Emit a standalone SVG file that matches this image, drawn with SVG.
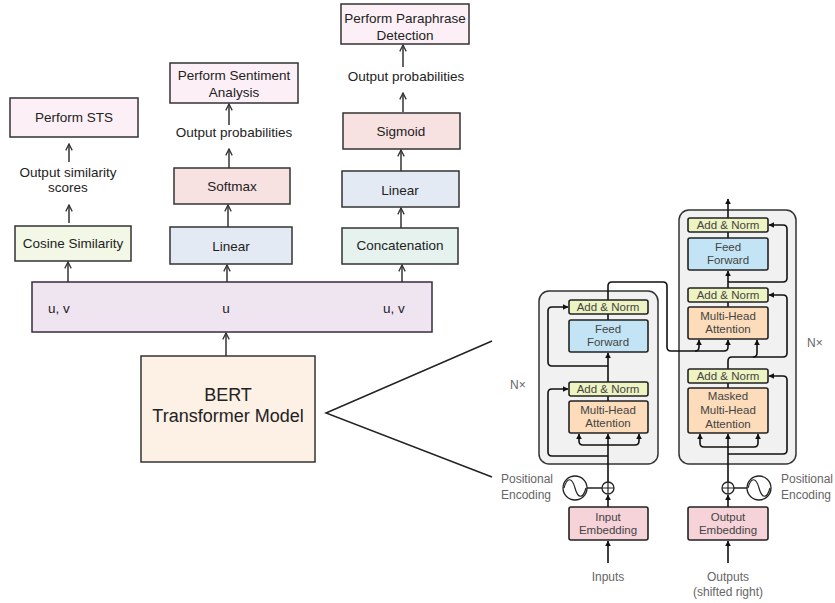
<svg xmlns="http://www.w3.org/2000/svg" width="835" height="603" viewBox="0 0 835 603">
<defs>
<marker id="open" viewBox="0 0 10 10" refX="9" refY="5" markerWidth="8" markerHeight="8" markerUnits="userSpaceOnUse" orient="auto">
<path d="M1,1 L9,5 L1,9" fill="none" stroke="#333" stroke-width="1.6"/>
</marker>
<marker id="tri" viewBox="0 0 10 10" refX="9" refY="5" markerWidth="6" markerHeight="6" markerUnits="userSpaceOnUse" orient="auto">
<path d="M0,0 L10,5 L0,10 z" fill="#111"/>
</marker>
</defs>
<style>
.lt{font-family:"Liberation Sans",Arial,sans-serif;font-size:13.5px;fill:#222;text-anchor:middle}
.bx{stroke:#333;stroke-width:1.5}
.conn{fill:none;stroke:#333;stroke-width:1.5}
.tc{fill:none;stroke:#111;stroke-width:1.6}
.tt{font-family:"Liberation Sans",Arial,sans-serif;font-size:11.5px;fill:#444;text-anchor:middle}
.tg{font-family:"Liberation Sans",Arial,sans-serif;font-size:12px;fill:#666}
.tb{stroke:#222;stroke-width:1.6}
.outer{fill:#f1f1f1;stroke:#333;stroke-width:1.5}
.an{fill:#eef3c2}
.ff{fill:#c3e4f4}
.mha{fill:#fcdcba}
.emb{fill:#f6d3d8}
</style>
<rect width="835" height="603" fill="#ffffff"/>

<!-- Stack backgrounds -->
<g id="encoder-stack"><rect class="outer" x="539" y="291" width="119" height="173" rx="10"/></g>
<g id="decoder-stack"><rect class="outer" x="679" y="210" width="117" height="254" rx="10"/></g>

<!-- Connectors -->
<g id="connectors">
<line class="conn" x1="69" y1="162" x2="69" y2="144" marker-end="url(#open)"/>
<line class="conn" x1="69" y1="223" x2="69" y2="205" marker-end="url(#open)"/>
<line class="conn" x1="68" y1="282" x2="68" y2="262" marker-end="url(#open)"/>
<line class="conn" x1="229" y1="125" x2="229" y2="104" marker-end="url(#open)"/>
<line class="conn" x1="229" y1="168" x2="229" y2="149" marker-end="url(#open)"/>
<line class="conn" x1="228" y1="227" x2="228" y2="205" marker-end="url(#open)"/>
<line class="conn" x1="227" y1="282" x2="227" y2="265" marker-end="url(#open)"/>
<line class="conn" x1="403" y1="67" x2="403" y2="45" marker-end="url(#open)"/>
<line class="conn" x1="403" y1="112" x2="403" y2="93" marker-end="url(#open)"/>
<line class="conn" x1="401" y1="171" x2="401" y2="150" marker-end="url(#open)"/>
<line class="conn" x1="401" y1="228" x2="401" y2="208" marker-end="url(#open)"/>
<line class="conn" x1="402" y1="282" x2="402" y2="265" marker-end="url(#open)"/>
<line class="conn" x1="226" y1="356" x2="226" y2="333" marker-end="url(#open)"/>
<polyline fill="none" stroke="#222" stroke-width="1.5" points="492,341 326,413 492,477"/>

<line class="tc" x1="608" y1="563" x2="608" y2="541" marker-end="url(#tri)"/>
<line class="tc" x1="608" y1="507" x2="608" y2="495" marker-end="url(#tri)"/>
<line class="tc" x1="608" y1="482" x2="608" y2="434" marker-end="url(#tri)"/>
<path class="tc" d="M608,445 H583 Q579,445 579,441 V434" marker-end="url(#tri)"/>
<path class="tc" d="M608,445 H635 Q639,445 639,441 V434" marker-end="url(#tri)"/>
<path class="tc" d="M608,456 H552 Q548,456 548,452 V393 Q548,389 552,389 H568" marker-end="url(#tri)"/>
<line class="tc" x1="608" y1="401" x2="608" y2="396"/>
<line class="tc" x1="608" y1="382" x2="608" y2="353" marker-end="url(#tri)"/>
<path class="tc" d="M608,366 H552 Q548,366 548,362 V311 Q548,307 552,307 H568" marker-end="url(#tri)"/>
<line class="tc" x1="608" y1="320" x2="608" y2="314"/>
<path class="tc" d="M608,300 V286 Q608,282 612,282 H663 Q667,282 667,286 V347 Q667,351 671,351 H695 Q699,351 699,347 V340" marker-end="url(#tri)"/>
<path class="tc" d="M695,351 H724 Q728,351 728,347 V340" marker-end="url(#tri)"/>

<line class="tc" x1="728" y1="563" x2="728" y2="541" marker-end="url(#tri)"/>
<line class="tc" x1="728" y1="507" x2="728" y2="495" marker-end="url(#tri)"/>
<line class="tc" x1="728" y1="482" x2="728" y2="434" marker-end="url(#tri)"/>
<path class="tc" d="M728,447 H704 Q700,447 700,443 V434" marker-end="url(#tri)"/>
<path class="tc" d="M728,447 H754 Q758,447 758,443 V434" marker-end="url(#tri)"/>
<path class="tc" d="M728,454 H783 Q787,454 787,450 V380 Q787,376 783,376 H769" marker-end="url(#tri)"/>
<line class="tc" x1="728" y1="388" x2="728" y2="383"/>
<path class="tc" d="M728,369 V361 Q728,357 732,357 H753 Q757,357 757,353 V340" marker-end="url(#tri)"/>
<path class="tc" d="M753,357 H783 Q787,357 787,353 V299 Q787,295 783,295 H769" marker-end="url(#tri)"/>
<line class="tc" x1="728" y1="307" x2="728" y2="302"/>
<line class="tc" x1="728" y1="288" x2="728" y2="271" marker-end="url(#tri)"/>
<path class="tc" d="M728,282 H783 Q787,282 787,278 V229 Q787,225 783,225 H769" marker-end="url(#tri)"/>
<line class="tc" x1="728" y1="238" x2="728" y2="232"/>
<line class="tc" x1="728" y1="218" x2="728" y2="199" marker-end="url(#tri)"/>
</g>

<!-- Left side nodes -->
<g id="perform-sts"><rect class="bx" x="10" y="98" width="128" height="39" fill="#fcf0f6"/><text class="lt" x="74" y="122">Perform STS</text></g>
<g id="sts-label"><text class="lt" x="68" y="177">Output similarity</text><text class="lt" x="68" y="192">scores</text></g>
<g id="cosine"><rect class="bx" x="15" y="226" width="116" height="35" fill="#f2f7e6"/><text class="lt" x="73" y="248">Cosine Similarity</text></g>

<g id="perform-sentiment"><rect class="bx" x="170" y="63" width="128" height="40" fill="#fcf0f6"/><text class="lt" x="234" y="80">Perform Sentiment</text><text class="lt" x="234" y="97">Analysis</text></g>
<g id="sent-label"><text class="lt" x="234" y="137">Output probabilities</text></g>
<g id="softmax"><rect class="bx" x="174" y="168" width="116" height="36" fill="#f8e1e1"/><text class="lt" x="232" y="191">Softmax</text></g>
<g id="linear-mid"><rect class="bx" x="170" y="227" width="122" height="37" fill="#e4eaf3"/><text class="lt" x="231" y="251">Linear</text></g>

<g id="perform-paraphrase"><rect class="bx" x="341" y="4" width="128" height="40" fill="#fcf0f6"/><text class="lt" x="405" y="23">Perform Paraphrase</text><text class="lt" x="405" y="40">Detection</text></g>
<g id="para-label"><text class="lt" x="406" y="81">Output probabilities</text></g>
<g id="sigmoid"><rect class="bx" x="343" y="113" width="117" height="36" fill="#f8e1e1"/><text class="lt" x="401" y="136">Sigmoid</text></g>
<g id="linear-right"><rect class="bx" x="342" y="171" width="117" height="36" fill="#e4eaf3"/><text class="lt" x="400" y="195">Linear</text></g>
<g id="concat"><rect class="bx" x="342" y="228" width="116" height="36" fill="#e5f2ee"/><text class="lt" x="400" y="250">Concatenation</text></g>

<g id="embeddings-bar"><rect x="32" y="282" width="400" height="50" fill="#efe5f1" stroke="#3a2a3e" stroke-width="1.5"/>
<text class="lt" x="48" y="313" style="text-anchor:start">u, v</text>
<text class="lt" x="226" y="313">u</text>
<text class="lt" x="383" y="313" style="text-anchor:start">u, v</text></g>

<g id="bert"><rect class="bx" x="141" y="356" width="174" height="106" fill="#fdf1e6"/>
<text class="lt" x="228" y="401" style="font-size:18px">BERT</text>
<text class="lt" x="228" y="422" style="font-size:18px">Transformer Model</text></g>

<!-- Encoder -->
<g id="enc-addnorm2"><rect class="tb an" x="569" y="300" width="79" height="14" rx="2"/><text class="tt" x="608" y="311">Add &amp; Norm</text></g>
<g id="enc-ff"><rect class="tb ff" x="569" y="320" width="79" height="32" rx="2"/><text class="tt" x="608" y="333">Feed</text><text class="tt" x="608" y="346">Forward</text></g>
<g id="enc-addnorm1"><rect class="tb an" x="569" y="382" width="79" height="14" rx="2"/><text class="tt" x="608" y="393">Add &amp; Norm</text></g>
<g id="enc-mha"><rect class="tb mha" x="569" y="401" width="79" height="32" rx="2"/><text class="tt" x="608" y="414">Multi-Head</text><text class="tt" x="608" y="427">Attention</text></g>
<g id="enc-nx"><text class="tg" x="510" y="389">N×</text></g>
<g id="enc-pos"><circle cx="575" cy="488" r="12" fill="#fff" stroke="#222" stroke-width="1.3"/>
<path d="M564,488 C567,477 572,477 575,488 C578,499 583,499 586,488" fill="none" stroke="#222" stroke-width="1.2"/>
<line x1="587" y1="488" x2="602" y2="488" stroke="#222" stroke-width="1.5"/>
<circle cx="608" cy="488" r="6" fill="#fff" stroke="#222" stroke-width="1.3"/>
<path d="M602,488 H614 M608,482 V494" stroke="#222" stroke-width="1.2"/>
<text class="tg" x="501" y="483">Positional</text><text class="tg" x="501" y="499">Encoding</text></g>
<g id="input-embedding"><rect class="tb emb" x="569" y="507" width="79" height="33" rx="2"/><text class="tt" x="608" y="521">Input</text><text class="tt" x="608" y="534">Embedding</text></g>
<g id="inputs"><text class="tg" x="608" y="581" style="text-anchor:middle">Inputs</text></g>

<!-- Decoder -->
<g id="dec-addnorm3"><rect class="tb an" x="688" y="218" width="80" height="14" rx="2"/><text class="tt" x="728" y="229">Add &amp; Norm</text></g>
<g id="dec-ff"><rect class="tb ff" x="688" y="238" width="80" height="32" rx="2"/><text class="tt" x="728" y="251">Feed</text><text class="tt" x="728" y="264">Forward</text></g>
<g id="dec-addnorm2"><rect class="tb an" x="688" y="288" width="80" height="14" rx="2"/><text class="tt" x="728" y="299">Add &amp; Norm</text></g>
<g id="dec-mha"><rect class="tb mha" x="688" y="307" width="80" height="32" rx="2"/><text class="tt" x="728" y="320">Multi-Head</text><text class="tt" x="728" y="333">Attention</text></g>
<g id="dec-addnorm1"><rect class="tb an" x="688" y="369" width="80" height="14" rx="2"/><text class="tt" x="728" y="380">Add &amp; Norm</text></g>
<g id="dec-masked"><rect class="tb mha" x="688" y="388" width="80" height="45" rx="2"/><text class="tt" x="728" y="400">Masked</text><text class="tt" x="728" y="414">Multi-Head</text><text class="tt" x="728" y="428">Attention</text></g>
<g id="dec-nx"><text class="tg" x="807" y="347">N×</text></g>
<g id="dec-pos"><circle cx="728" cy="488" r="6" fill="#fff" stroke="#222" stroke-width="1.3"/>
<path d="M722,488 H734 M728,482 V494" stroke="#222" stroke-width="1.2"/>
<line x1="734" y1="488" x2="747" y2="488" stroke="#222" stroke-width="1.5"/>
<circle cx="759" cy="488" r="12" fill="#fff" stroke="#222" stroke-width="1.3"/>
<path d="M748,488 C751,477 756,477 759,488 C762,499 767,499 770,488" fill="none" stroke="#222" stroke-width="1.2"/>
<text class="tg" x="781" y="483">Positional</text><text class="tg" x="781" y="499">Encoding</text></g>
<g id="output-embedding"><rect class="tb emb" x="688" y="507" width="80" height="33" rx="2"/><text class="tt" x="728" y="521">Output</text><text class="tt" x="728" y="534">Embedding</text></g>
<g id="outputs"><text class="tg" x="728" y="581" style="text-anchor:middle">Outputs</text><text class="tg" x="728" y="596" style="text-anchor:middle">(shifted right)</text></g>
</svg>
